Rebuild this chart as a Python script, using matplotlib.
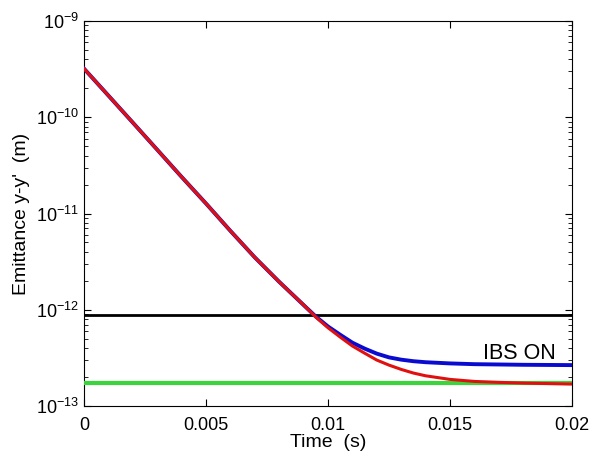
import matplotlib
matplotlib.use("Agg")
import matplotlib.pyplot as plt
from matplotlib.ticker import FixedLocator, FixedFormatter, LogLocator, NullFormatter

plt.rcParams['font.family'] = ['Liberation Sans', 'DejaVu Sans']
plt.rcParams['mathtext.fontset'] = 'custom'
plt.rcParams['mathtext.rm'] = 'Liberation Sans'

# time (s)
t_red = [0, 0.001, 0.002, 0.003, 0.004, 0.005, 0.006, 0.007, 0.008, 0.009,
         0.0095, 0.010, 0.0105, 0.011, 0.0115, 0.012, 0.0125, 0.013, 0.0135,
         0.014, 0.015, 0.016, 0.017, 0.018, 0.019, 0.020]
eps_red = [3.2e-10, 1.68e-10, 8.8e-11, 4.6e-11, 2.4e-11, 1.27e-11, 6.6e-12,
           3.5e-12, 1.95e-12, 1.12e-12, 8.4e-13, 6.5e-13, 5.2e-13, 4.2e-13,
           3.54e-13, 3.0e-13, 2.66e-13, 2.4e-13, 2.2e-13, 2.06e-13, 1.89e-13,
           1.8e-13, 1.76e-13, 1.73e-13, 1.71e-13, 1.69e-13]

t_blue = [0, 0.001, 0.002, 0.003, 0.004, 0.005, 0.006, 0.007, 0.008, 0.009,
          0.0095, 0.010, 0.0105, 0.011, 0.0115, 0.012, 0.0125, 0.013, 0.0135,
          0.014, 0.015, 0.016, 0.017, 0.018, 0.019, 0.020]
eps_blue = [3.2e-10, 1.68e-10, 8.8e-11, 4.6e-11, 2.4e-11, 1.27e-11, 6.6e-12,
            3.5e-12, 1.95e-12, 1.12e-12, 8.5e-13, 6.7e-13, 5.5e-13, 4.55e-13,
            3.95e-13, 3.5e-13, 3.2e-13, 3.03e-13, 2.92e-13, 2.85e-13, 2.77e-13,
            2.72e-13, 2.7e-13, 2.68e-13, 2.67e-13, 2.66e-13]

eps_black = 8.8e-13
eps_green = 1.75e-13

xticks = [0, 0.005, 0.01, 0.015, 0.02]
xticklabels = ['0', '0.005', '0.01', '0.015', '0.02']
yticks = [1e-13, 1e-12, 1e-11, 1e-10, 1e-9]
yticklabels = [r'$\mathregular{10^{-13}}$', r'$\mathregular{10^{-12}}$',
               r'$\mathregular{10^{-11}}$', r'$\mathregular{10^{-10}}$',
               r'$\mathregular{10^{-9}}$']

fig = plt.figure(figsize=(5.94, 4.57), dpi=100)
ax = fig.add_axes([84/594, 51/457, 488/594, 385/457])

ax.plot(t_blue, eps_blue, color='#0a0ad0', lw=2.8, zorder=3)
ax.axhline(eps_black, color='black', lw=2, zorder=2)
ax.plot(t_red, eps_red, color='#e01010', lw=2.2, zorder=4)
ax.axhline(eps_green, color='#3cd43c', lw=3, zorder=3.5)

ax.text(0.01785, 3.5e-13, 'IBS ON', fontsize=15.5, ha='center', va='center')

ax.set_yscale('log')
ax.set_xlim(0, 0.02)
ax.set_ylim(1e-13, 1e-9)
ax.xaxis.set_major_locator(FixedLocator(xticks))
ax.xaxis.set_major_formatter(FixedFormatter(xticklabels))
ax.yaxis.set_major_locator(FixedLocator(yticks))
ax.yaxis.set_major_formatter(FixedFormatter(yticklabels))
ax.yaxis.set_minor_locator(LogLocator(base=10, subs=range(2, 10)))
ax.yaxis.set_minor_formatter(NullFormatter())
ax.tick_params(which='both', direction='in', top=True, right=True, labelsize=13)
ax.tick_params(which='major', length=5)
ax.tick_params(which='minor', length=3)
ax.tick_params(axis='x', pad=8)

ax.set_xlabel('Time  (s)', fontsize=14, labelpad=0)
ax.set_ylabel("Emittance y-y'  (m)", fontsize=14, labelpad=4)

fig.savefig('out.png', dpi=100)
